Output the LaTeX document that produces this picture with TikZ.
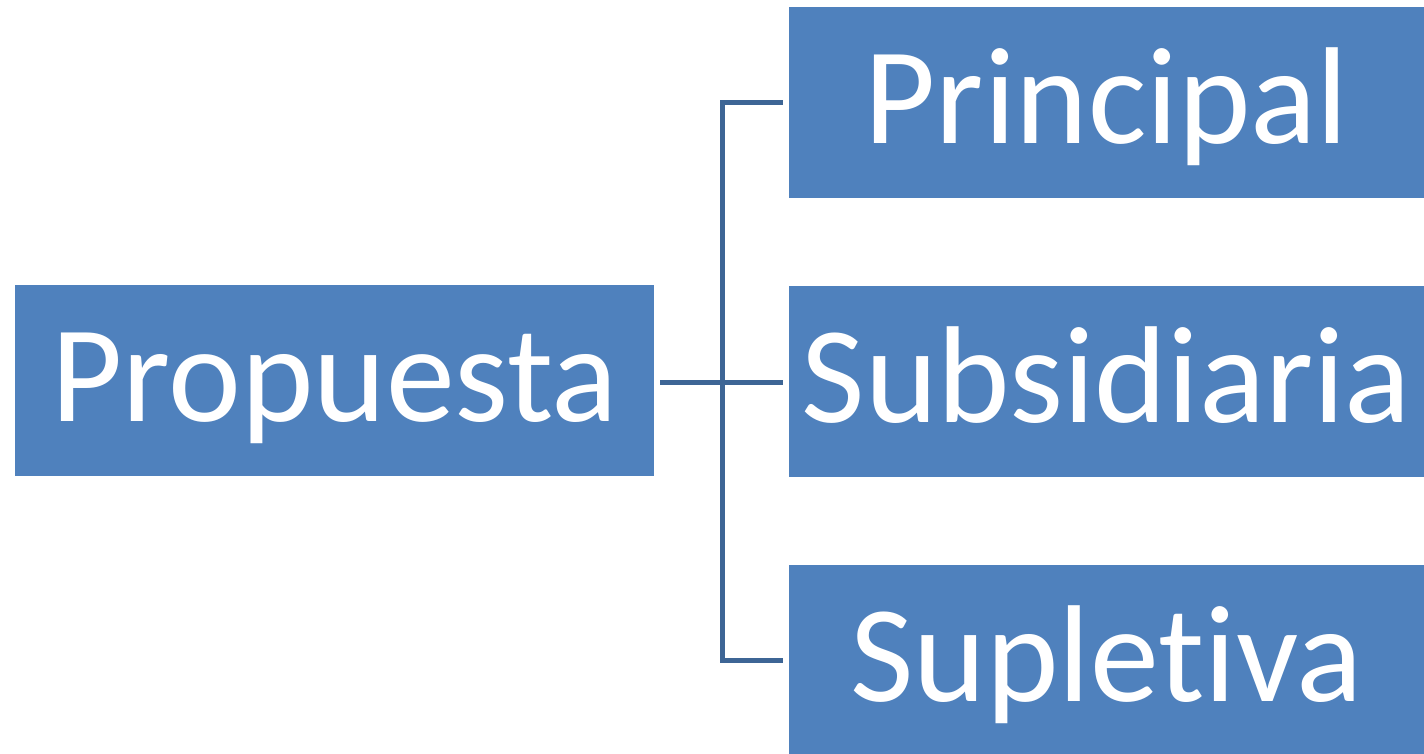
\documentclass[tikz,border=0pt]{standalone}
\usepackage{fontspec}
\setmainfont[Ligatures=NoCommon]{Carlito}
\usetikzlibrary{calc}
\definecolor{boxblue}{HTML}{4F81BD}
\definecolor{linkblue}{HTML}{3D6595}

\begin{document}
\begin{tikzpicture}[x=1pt,y=-1pt,
    box/.style={rectangle,fill=boxblue,text=white,inner sep=0pt,
      font=\fontsize{138}{160}\selectfont,
      text height=136pt,text depth=55pt,align=center},
    link/.style={draw=linkblue,line width=5pt,line join=miter}]
          \useasboundingbox (0,0) rectangle (1424,754);
          % boxes
          \node[box,text width=639pt] (prop) at (334.5,285) [anchor=north] {Propuesta};
          \node[box,text width=635pt] (prin) at (1106.5,7) [anchor=north] {Principal};
          \node[box,text width=635pt] (subs) at (1106.5,286) [anchor=north] {Subsidiaria};
          \node[box,text width=635pt] (supl) at (1106.5,565) [anchor=north] {Supletiva};
          % links
          \coordinate (bus) at (722,382);
          \draw[link] ([xshift=6pt]prop.east |- bus) -- ([xshift=-6pt]subs.west |- bus);
          \draw[link] ([xshift=-6pt]prin.west) -| (bus) |- ([xshift=-6pt]supl.west);
        \end{tikzpicture}
\end{document}
